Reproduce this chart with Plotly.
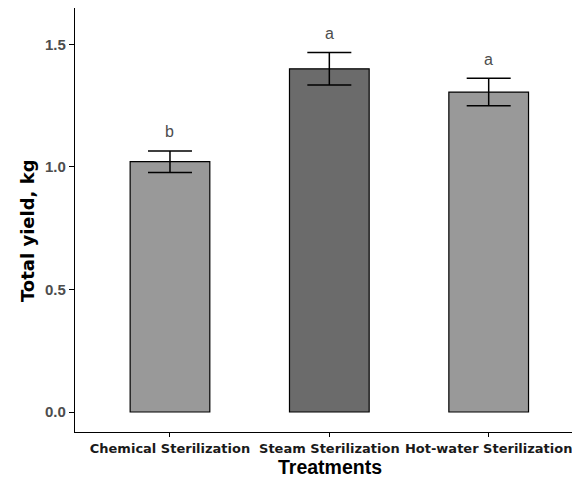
import plotly.graph_objects as go

categories = ["Chemical Sterilization", "Steam Sterilization", "Hot-water Sterilization"]
yield_kg = [1.021, 1.400, 1.305]
err_kg = [0.044, 0.066, 0.056]
letters = ["b", "a", "a"]
bar_colors = ["#999999", "#6b6b6b", "#999999"]

fig = go.Figure()
fig.add_trace(go.Bar(
    x=categories, y=yield_kg, width=0.5,
    marker=dict(color=bar_colors, line=dict(color="black", width=1.2)),
    error_y=dict(type="data", array=err_kg, visible=True, color="black", thickness=1.5, width=22),
    showlegend=False,
))

for c, v, e, t in zip(categories, yield_kg, err_kg, letters):
    fig.add_annotation(x=c, y=v + e, text=t, showarrow=False, yshift=19,
                       yanchor="middle", font=dict(size=16, color="#4d4d4d", family="Liberation Sans"))

# axis titles placed as annotations
fig.add_annotation(xref="paper", yref="paper", x=-0.095, y=0.474, text="<b>Total yield, kg</b>",
                   textangle=-90, showarrow=False, xanchor="center", yanchor="middle",
                   font=dict(size=18, color="black", family="DejaVu Sans"))
fig.add_annotation(xref="paper", yref="paper", x=0.505, y=-0.0825, text="<b>Treatments</b>",
                   showarrow=False, xanchor="center", yanchor="middle", borderpad=0,
                   font=dict(size=19.5, color="black", family="Liberation Sans"))

# page body has an 8px margin, so the figure is sized to fit the 580x479 window
fig.update_layout(
    width=572, height=471,
    margin=dict(l=67, r=0, t=0, b=47, autoexpand=False),
    plot_bgcolor="white", paper_bgcolor="white",
    font=dict(family="Liberation Sans", color="black"),
    xaxis=dict(
        range=[-0.596, 2.573], showline=True, linecolor="black", linewidth=1.2,
        ticks="outside", ticklen=4, tickcolor="black", tickwidth=1,
        tickfont=dict(size=13, color="#1a1a1a", family="DejaVu Sans", weight="bold"),
        showgrid=False, automargin=False,
    ),
    yaxis=dict(
        range=[-0.0815, 1.648], showline=True, linecolor="black", linewidth=1.2,
        tickvals=[0, 0.5, 1.0, 1.5], ticktext=["0.0", "0.5", "1.0", "1.5"],
        ticks="outside", ticklen=5, tickcolor="black", tickwidth=1,
        tickfont=dict(size=15, color="#4d4d4d", family="Liberation Sans", weight="bold"),
        showgrid=False, zeroline=False, automargin=False,
    ),
)

fig.write_html("out.html")
